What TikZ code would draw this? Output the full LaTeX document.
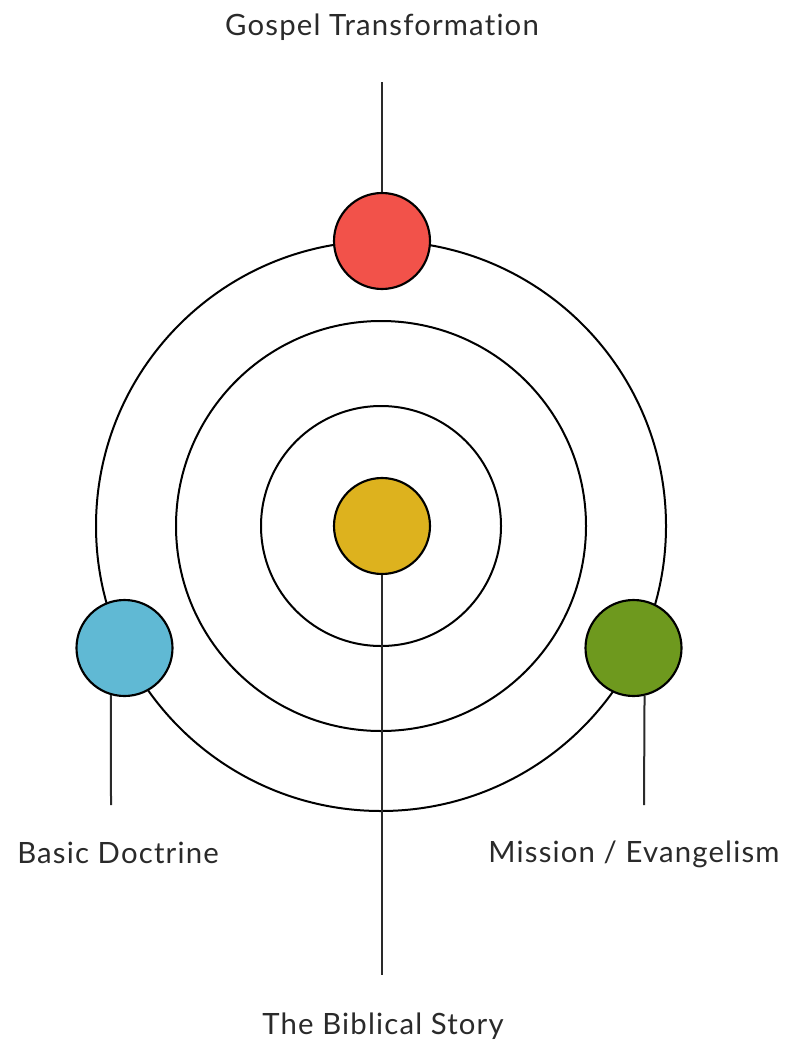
\documentclass[tikz,border=0pt]{standalone}
\usepackage{fontspec}
\setmainfont{Lato}[LetterSpace=4, Ligatures={NoCommon}]
\usetikzlibrary{positioning}

\definecolor{gospelred}{HTML}{F2524A}
\definecolor{storyyellow}{HTML}{DDB21E}
\definecolor{doctrineblue}{HTML}{60B9D4}
\definecolor{missiongreen}{HTML}{6E991E}
\definecolor{labelgray}{HTML}{2A2A2A}

\tikzset{
    dot/.style={circle, draw=black, line width=1.6pt, minimum size=96\pxu, inner sep=0pt},
    ring/.style={draw=black, line width=1.5pt},
    stem/.style={draw=labelgray, line width=1.5pt},
    caption/.style={text=labelgray, font=\fontsize{22}{26}\selectfont, inner sep=0pt}
}
\newlength{\pxu}
\setlength{\pxu}{0.75pt}

\begin{document}
\begin{tikzpicture}[x=0.75pt, y=-0.75pt]
            \useasboundingbox (0,0) rectangle (787,1041);
            % rings round the centre
            \draw [ring] (381,526) circle (285\pxu);
            \draw [ring] (381,526) circle (205\pxu);
            \draw [ring] (381,526) circle (120\pxu);
            % the four dots
            \node [dot, fill=storyyellow] (story) at (382,526) {};
            \node [dot, fill=gospelred] (gospel) at (382,241) {};
            \node [dot, fill=doctrineblue] (doctrine) at (124.5,648) {};
            \node [dot, fill=missiongreen] (mission) at (633.5,648) {};
            % labels
            \node [caption] (gospellabel) at (382,27) {Gospel Transformation};
            \node [caption] (doctrinelabel) at (118,853) {Basic Doctrine};
            \node [caption] (missionlabel) at (634,854) {Mission / Evangelism};
            \node [caption] (storylabel) at (383,1026) {The Biblical Story};
            % stems
            \coordinate (gospelend) at (382,82);
            \coordinate (storyend) at (382,975);
            \coordinate (doctrineend) at (111,805);
            \coordinate (missionend) at (644,805);
            \draw [stem] (gospel.north) -- (gospelend);
            \draw [stem] (story.south) -- (storyend);
            \draw [stem] (doctrine.-106) -- (doctrineend);
            \draw [stem] (mission.-77.5) -- (missionend);
        \end{tikzpicture}
\end{document}
